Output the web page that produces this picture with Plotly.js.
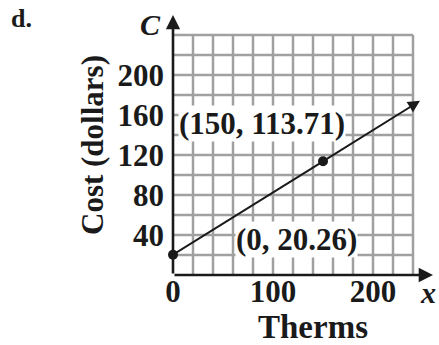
<!DOCTYPE html>
<html>
<head>
<meta charset="utf-8">
<script src="https://cdn.plot.ly/plotly-3.0.1.min.js"></script>
<style>html,body{margin:0;padding:0;background:#fff;}#chart{width:439px;height:345px;}</style>
</head>
<body>
<div id="chart"></div>
<script>
// Data
const thermsX = [0, 150];
const costY = [20.26, 113.71];
const pointLabels = ["(0, 20.26)", "(150, 113.71)"];
const labelX = [123, 89];
const labelY = [36, 152];
const lineEndX = 247;
const xTickVals = [0, 100, 200];
const xTickText = ["0", "100", "200"];
const yTickVals = [40, 80, 120, 160, 200];
const yTickText = ["40", "80", "120", "160", "200"];
const gridVals = [20, 40, 60, 80, 100, 120, 140, 160, 180, 200, 220, 240];
const gridMax = 240;
const axisMax = 260;
const xTitle = "Therms";
const yTitle = "Cost (dollars)";

const serif = "Liberation Serif, Times New Roman, serif";
const gridColor = "#a0a0a0";
const ink = "#1a1a1a";

const shapes = [];
gridVals.forEach(v => {
  shapes.push({type: "line", xref: "x", yref: "y", x0: v, x1: v, y0: 0, y1: gridMax, line: {color: gridColor, width: 2.5}, layer: "below"});
  shapes.push({type: "line", xref: "x", yref: "y", x0: 0, x1: gridMax, y0: v, y1: v, line: {color: gridColor, width: 2.5}, layer: "below"});
});

const slope = (costY[1] - costY[0]) / (thermsX[1] - thermsX[0]);
const lineEndY = costY[0] + slope * lineEndX;

const letter = (x, y, text, size, style) => ({
  x: x, y: y, xref: "paper", yref: "paper", xanchor: "center", yanchor: "middle",
  text: text, showarrow: false,
  font: {family: serif, size: size, weight: "bold", style: style, color: ink}
});

const annotations = [
  // axes with arrowheads
  {x: axisMax, y: 0, ax: 0, ay: 0, xref: "x", yref: "y", axref: "x", ayref: "y", showarrow: true, arrowhead: 2, arrowsize: 1.1, arrowwidth: 2.6, arrowcolor: ink, text: ""},
  {x: 0, y: axisMax, ax: 0, ay: 0, xref: "x", yref: "y", axref: "x", ayref: "y", showarrow: true, arrowhead: 2, arrowsize: 1.1, arrowwidth: 2.6, arrowcolor: ink, text: ""},
  // extended cost line with arrow
  {x: lineEndX, y: lineEndY, ax: thermsX[1], ay: costY[1], xref: "x", yref: "y", axref: "x", ayref: "y", showarrow: true, arrowhead: 2, arrowsize: 1.2, arrowwidth: 2, arrowcolor: ink, text: ""},
  // point labels
  {x: labelX[0], y: labelY[0], xref: "x", yref: "y", xanchor: "center", yanchor: "middle", text: pointLabels[0], showarrow: false, bgcolor: "#fff", borderpad: 0, font: {family: serif, size: 31, weight: "bold", color: ink}},
  {x: labelX[1], y: labelY[1], xref: "x", yref: "y", xanchor: "center", yanchor: "middle", text: pointLabels[1], showarrow: false, bgcolor: "#fff", borderpad: 0, font: {family: serif, size: 31, weight: "bold", color: ink}},
  // x-axis title
  letter(0.538, -0.200, xTitle, 33, "normal"),
  // axis variable letters and panel letter
  letter(-0.088, 0.962, "C", 30, "italic"),
  letter(0.981, -0.069, "x", 30, "italic"),
  letter(-0.581, 0.988, "d.", 26, "normal")
];

const traces = [{
  x: thermsX, y: costY, type: "scatter", mode: "lines+markers",
  line: {color: ink, width: 2}, marker: {color: ink, size: 10},
  hoverinfo: "x+y", cliponaxis: false
}];

const tickFont = {family: serif, size: 31, weight: "bold", color: ink};

const layout = {
  width: 439, height: 345,
  margin: {l: 173, r: 6, t: 15, b: 70, pad: 0},
  paper_bgcolor: "#fff", plot_bgcolor: "#fff",
  showlegend: false,
  xaxis: {
    range: [0, axisMax], showgrid: false, zeroline: false, showline: false,
    tickmode: "array", tickvals: xTickVals, ticktext: xTickText,
    ticks: "", tickfont: tickFont, ticklabelstandoff: -5,
    automargin: false, fixedrange: true
  },
  yaxis: {
    range: [0, axisMax], showgrid: false, zeroline: false, showline: false,
    tickmode: "array", tickvals: yTickVals, ticktext: yTickText,
    ticks: "", tickfont: tickFont, ticklabelstandoff: 8,
    title: {text: yTitle, font: {family: serif, size: 31, weight: "bold", color: ink}, standoff: 4},
    automargin: false, fixedrange: true
  },
  shapes: shapes,
  annotations: annotations
};

Plotly.newPlot("chart", traces, layout, {displayModeBar: false, staticPlot: true});
</script>
</body>
</html>
